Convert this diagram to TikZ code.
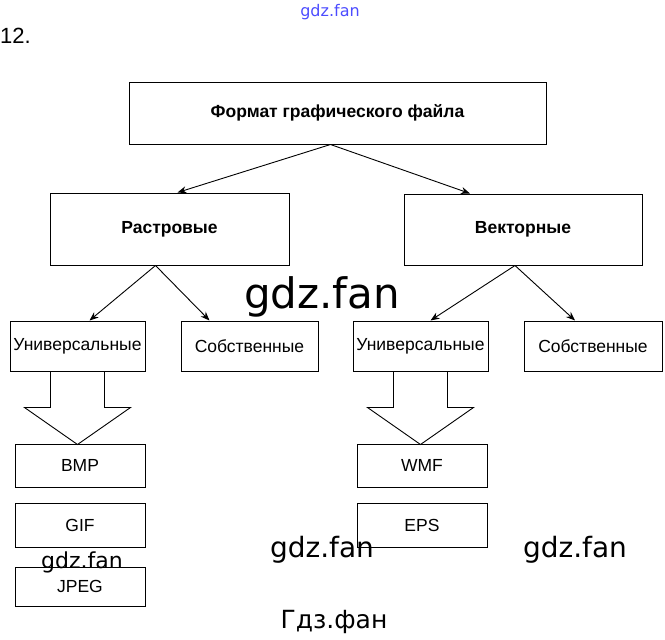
\documentclass[tikz,border=0pt]{standalone}
\usepackage{fontspec}
\setmainfont{Liberation Sans}
\newfontfamily\wmfont{DejaVu Sans}
\usetikzlibrary{arrows.meta}
\tikzset{
  box/.style={draw, line width=1pt, inner sep=0pt, font=\fontsize{17.5}{20}\selectfont},
  head/.style={box, font=\fontsize{17.5}{20}\selectfont\bfseries},
  link/.style={line width=0.9pt, -{Stealth[length=9pt,width=7pt]}},
  fat/.style={line width=0.9pt},
  mark/.style={font=\wmfont\fontsize{#1}{#1}\selectfont, inner sep=0pt}
}
\begin{document}
\begin{tikzpicture}[x=1pt,y=-1pt]
\useasboundingbox (0,0) rectangle (665,640);
\node[anchor=west, inner sep=0pt, font=\fontsize{22}{24}\selectfont] (num) at (0,36) {12.};
% levels of the tree
\node[head, minimum width=417, minimum height=62] (top) at (337.5,113) {Формат графического файла};
\node[head, minimum width=239, minimum height=72] (rast) at (169.5,229) {Растровые};
\node[head, minimum width=238, minimum height=71] (vect) at (523,229.5) {Векторные};
\node[box, minimum width=135, minimum height=50] (univA) at (77.5,346) {Универсальные};
\node[box, minimum width=137, minimum height=50] (ownA) at (249.5,346) {Собственные};
\node[box, minimum width=135, minimum height=50] (univB) at (420.5,346) {Универсальные};
\node[box, minimum width=138, minimum height=50] (ownB) at (593,346) {Собственные};
% file formats
\node[box, minimum width=130, minimum height=43] (bmp) at (80,465.5) {BMP};
\node[box, minimum width=130, minimum height=44] (gif) at (80,525) {GIF};
\node[box, minimum width=130, minimum height=39] (jpeg) at (80,586.5) {JPEG};
\node[box, minimum width=130, minimum height=43] (wmf) at (422,465.5) {WMF};
\node[box, minimum width=130, minimum height=44] (eps) at (422,525) {EPS};
% arrows
\draw[link] ([xshift=-7]top.south) -- ([xshift=8]rast.north);
\draw[link] ([xshift=-7]top.south) -- ([xshift=-53]vect.north);
\draw[link] ([xshift=-14]rast.south) -- ([xshift=12]univA.north);
\draw[link] ([xshift=-14]rast.south) -- ([xshift=-40]ownA.north);
\draw[link] ([xshift=-8]vect.south) -- ([xshift=10]univB.north);
\draw[link] ([xshift=-8]vect.south) -- ([xshift=-18]ownB.north);
% hollow arrows
\draw[fat] ([xshift=-27]univA.south) -- ++(0,36) -- ++(-26,0) -- ++(53,37)
  -- ++(53,-37) -- ++(-26,0) -- ++(0,-36);
\draw[fat] ([xshift=-27]univB.south) -- ++(0,36) -- ++(-26,0) -- ++(53,37)
  -- ++(53,-37) -- ++(-26,0) -- ++(0,-36);
% watermarks
\node[mark=16, text=blue!70] (w0) at (330,12) {gdz.fan};
\node[mark=42] (w1) at (322,297) {gdz.fan};
\node[mark=22] (w2) at (82,562) {gdz.fan};
\node[mark=28] (w3) at (322,550) {gdz.fan};
\node[mark=28] (w4) at (575,550) {gdz.fan};
\node[mark=25] (w5) at (334,622) {Гдз.фан};
\end{tikzpicture}
\end{document}
